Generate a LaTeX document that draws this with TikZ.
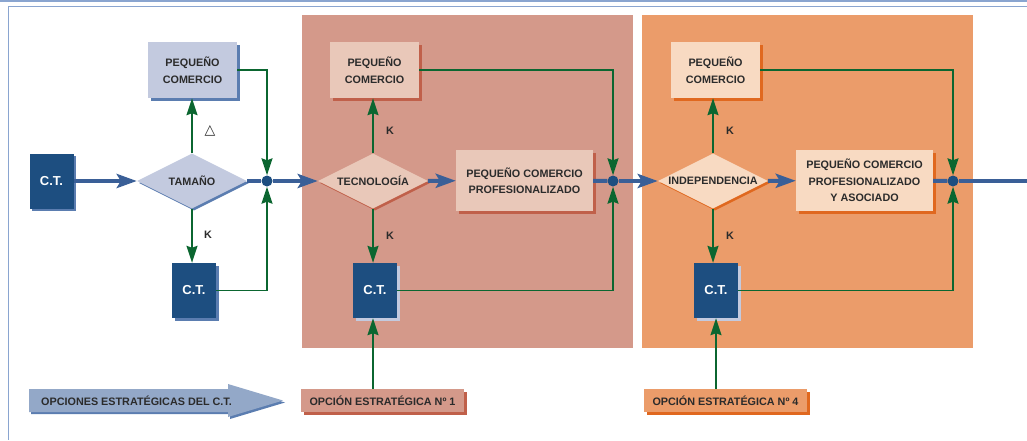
\documentclass[tikz,border=0pt]{standalone}
\usepackage{fontspec}
\setmainfont{Liberation Sans}
\newfontfamily\symfont{DejaVu Sans}
\usetikzlibrary{shapes.geometric,arrows.meta,shadows}

\definecolor{frameblue}{HTML}{8AA5D0}
\definecolor{ctblue}{HTML}{1D4E80}
\definecolor{ctshadow}{HTML}{5B7DB0}
\definecolor{greyblue}{HTML}{C3CADF}
\definecolor{axisblue}{HTML}{3A5F97}
\definecolor{flowgreen}{HTML}{0B6630}
\definecolor{roseback}{HTML}{D4998A}
\definecolor{roselight}{HTML}{E9C8B9}
\definecolor{roseshadow}{HTML}{C0604A}
\definecolor{orangeback}{HTML}{EB9C6A}
\definecolor{orangelight}{HTML}{F8DAC2}
\definecolor{orangeshadow}{HTML}{E0681F}
\definecolor{arrowgrey}{HTML}{93A8C8}
\definecolor{textdark}{HTML}{2B2B2B}

\newcommand\lblfont{\fontsize{10.8}{16.5}\selectfont\bfseries}
\newcommand\ctfont{\fontsize{13}{14}\selectfont\bfseries}

\tikzset{
  sh/.style={drop shadow={fill=#1, opacity=1, shadow xshift=3pt, shadow yshift=-3pt}},
  shs/.style={drop shadow={fill=#1, opacity=1, shadow xshift=2pt, shadow yshift=-2pt}},
  box/.style={rectangle, inner sep=0, align=center, font=\lblfont, text=textdark},
  ctbox/.style={rectangle, fill=ctblue, minimum width=44pt, minimum height=55pt,
    inner sep=0, text=white, font=\ctfont},
  dia/.style={diamond, aspect=2, minimum width=110pt, minimum height=55pt, inner sep=0},
  dtext/.style={font=\lblfont, text=textdark, inner sep=0},
  optbox/.style={rectangle, minimum width=163pt, minimum height=23pt, inner sep=0,
    font=\lblfont, text=textdark},
  axis/.style={draw=axisblue, line width=4pt},
  axarrow/.style={axis, -{Stealth[length=20pt,width=14pt,inset=4pt]}},
  flow/.style={draw=flowgreen, line width=1.7pt, -{Stealth[length=17pt,width=11pt,inset=2pt]}},
  jdot/.style={circle, fill=ctblue, minimum size=11pt, inner sep=0},
  klabel/.style={font=\lblfont, text=textdark, inner sep=0},
}

\begin{document}
\begin{tikzpicture}[x=1pt,y=-1pt]
\useasboundingbox (0,0) rectangle (1027,440);

% page frame
\fill[frameblue] (0,0) rectangle (1027,2);
\draw[frameblue, line width=1pt] (1027,6.5) -- (8.5,6.5) -- (8.5,440);

% option panels
\fill[roseback] (302,15) rectangle (633,348);
\fill[orangeback] (642,15) rectangle (973,348);

% left stage
\node[ctbox, shs=ctshadow] (ct1) at (51.5,181) {C.T.};
\node[dia, fill=greyblue, shs=ctshadow, label={[dtext]center:TAMAÑO}] (tam) at (192,181) {};
\node[box, fill=greyblue, sh=ctshadow, minimum width=89pt, minimum height=56pt] (pc1) at (192.5,70) {PEQUEÑO\\COMERCIO};
\node[ctbox, sh=ctshadow] (ct2) at (194,290.5) {C.T.};
\node[jdot] (j1) at (267,181) {};

% option 1
\node[box, fill=roselight, sh=roseshadow, minimum width=89pt, minimum height=56pt] (pc2) at (374.5,70) {PEQUEÑO\\COMERCIO};
\node[dia, fill=roselight, shs=roseshadow, label={[dtext]center:TECNOLOGÍA}] (tec) at (373,181) {};
\node[box, fill=roselight, sh=roseshadow, minimum width=137pt, minimum height=61pt] (pcp) at (524.5,180.5) {PEQUEÑO COMERCIO\\PROFESIONALIZADO};
\node[ctbox, sh=greyblue] (ct3) at (375,290.5) {C.T.};
\node[jdot] (j2) at (613,181) {};
\node[optbox, fill=roseback, sh=roseshadow] (op1) at (382.5,400.5) {OPCIÓN ESTRATÉGICA Nº 1};

% option 4
\node[box, fill=orangelight, sh=orangeshadow, minimum width=89pt, minimum height=56pt] (pc3) at (715.5,70) {PEQUEÑO\\COMERCIO};
\node[dia, fill=orangelight, shs=orangeshadow, label={[dtext]center:INDEPENDENCIA}] (ind) at (713,181) {};
\node[box, fill=orangelight, sh=orangeshadow, minimum width=137pt, minimum height=61pt] (pcpa) at (864.5,180.5) {PEQUEÑO COMERCIO\\PROFESIONALIZADO\\Y ASOCIADO};
\node[ctbox, sh=greyblue] (ct4) at (716,290.5) {C.T.};
\node[jdot] (j3) at (953,181) {};
\node[optbox, fill=orangeback, sh=orangeshadow] (op4) at (725.5,400.5) {OPCIÓN ESTRATÉGICA Nº 4};
\coordinate (out) at (1030,181);

% main axis
\draw[axarrow] (ct1) -- (tam);
\draw[axis] (tam) -- (j1);
\draw[axarrow] (j1) -- (tec);
\draw[axarrow] (tec) -- (pcp);
\draw[axis] (pcp) -- (j2);
\draw[axarrow] (j2) -- (ind);
\draw[axarrow] (ind) -- (pcpa);
\draw[axis] (pcpa) -- (j3);
\draw[axis] (j3) -- (out);

% branches
\draw[flow] (tam.north) -- (tam.north |- pc1.south);
\draw[flow] (tam.south) -- (tam.south |- ct2.north);
\draw[flow] (pc1.east) -| (j1.north);
\draw[flow] (ct2.east) -| (j1.south);
\node[font=\symfont\fontsize{14}{15}\selectfont, text=textdark, inner sep=0] (delta) at (210,131) {△};
\node[klabel] (k1) at (208,235) {K};

\draw[flow] (tec.north) -- (tec.north |- pc2.south);
\draw[flow] (tec.south) -- (tec.south |- ct3.north);
\draw[flow] (pc2.east) -| (j2.north);
\draw[flow] (ct3.east) -| (j2.south);
\draw[flow] (tec.south |- op1.north) -- (tec.south |- ct3.south);
\node[klabel] (k2) at (390,131) {K};
\node[klabel] (k3) at (390,236) {K};

\draw[flow] (ind.north) -- (ind.north |- pc3.south);
\draw[flow] (ind.south) -- (ind.south |- ct4.north);
\draw[flow] (pc3.east) -| (j3.north);
\draw[flow] (ct4.east) -| (j3.south);
\draw[flow] (ct4.south |- op4.north) -- (ct4.south);
\node[klabel] (k4) at (730,131) {K};
\node[klabel] (k5) at (730,236) {K};

% legend arrow
\fill[ctshadow] (31,391) -- (230,391) -- (230,386) -- (285,402.5) -- (230,419) -- (230,414) -- (31,414) -- cycle;
\fill[arrowgrey] (29,389) -- (228,389) -- (228,384) -- (283,400.5) -- (228,417) -- (228,412) -- (29,412) -- cycle;
\node[font=\lblfont, text=textdark, anchor=west, inner sep=0] (legend) at (41,400.5) {OPCIONES ESTRATÉGICAS DEL C.T.};
\end{tikzpicture}
\end{document}
